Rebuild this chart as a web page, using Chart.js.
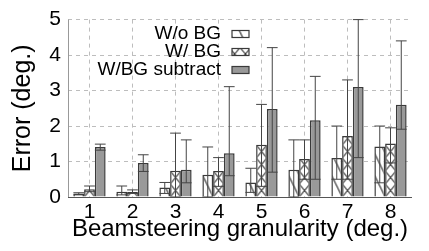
<!DOCTYPE html>
<html>
<head>
<meta charset="utf-8">
<script src="https://cdn.jsdelivr.net/npm/chart.js@4.4.0/dist/chart.umd.min.js"></script>
<style>
  html, body { margin: 0; padding: 0; background: #fff; }
  #wrap { width: 429px; height: 251px; }
</style>
</head>
<body>
<div id="wrap"><canvas id="errChart" width="429" height="251"></canvas></div>
<script>
// valores
const categorias = ['1', '2', '3', '4', '5', '6', '7', '8'];
const yTicks = [0, 1, 2, 3, 4, 5];

const semBG = [0.10, 0.15, 0.27, 0.63, 0.41, 0.77, 1.10, 1.42];
const semBGMin = [0.06, 0.06, 0.10, 0.00, 0.13, 0.00, 0.50, 0.40];
const semBGMax = [0.12, 0.31, 0.41, 1.41, 0.81, 1.61, 2.00, 2.00];

const comBG = [0.22, 0.14, 0.74, 0.73, 1.47, 1.07, 1.72, 1.51];
const comBGMin = [0.15, 0.10, 0.00, 0.30, 0.30, 0.50, 0.50, 0.96];
const comBGMax = [0.31, 0.20, 1.80, 1.11, 2.61, 1.61, 3.30, 1.95];

const subtrai = [1.41, 0.96, 0.77, 1.23, 2.48, 2.16, 3.10, 2.60];
const subtraiMin = [1.32, 0.72, 0.40, 0.60, 0.70, 0.50, 1.11, 1.91];
const subtraiMax = [1.49, 1.19, 1.61, 3.11, 4.21, 3.40, 5.00, 4.40];

const nomes = ['W/o BG', 'W/ BG', 'W/BG subtract'];

const FONTE = "'Liberation Sans', Arial, sans-serif";
const BORDA = '#3a3a3a';

// padrões de hachura (um bloco = 4 barras de 10.75px)
const passo = 10.75;
function criaPadrao(tipo) {
    const c = document.createElement('canvas');
    const h = tipo === 'diag' ? 22 : 13;
    c.width = 43; c.height = h;
    const g = c.getContext('2d');
    g.fillStyle = '#fff';
    g.fillRect(0, 0, c.width, h);
    g.strokeStyle = '#2a2a2a';
    g.lineWidth = 1.1;
    for (let k = 0; k < 4; k++) {
        const x0 = k * passo, x1 = (k + 1) * passo;
        g.beginPath();
        g.moveTo(x0, 0); g.lineTo(x1, h);
        if (tipo === 'cruz') { g.moveTo(x1, 0); g.lineTo(x0, h); }
        g.stroke();
    }
    const ctx = document.getElementById('errChart').getContext('2d');
    const p = ctx.createPattern(c, 'repeat');
    p.setTransform(new DOMMatrix().translate(68 + 5.375, 197));
    return p;
}

const padraoDiag = criaPadrao('diag');
const padraoCruz = criaPadrao('cruz');

const faixas = [[semBGMin, semBGMax], [comBGMin, comBGMax], [subtraiMin, subtraiMax]];

// barras de erro com traço no mínimo e no máximo
const errorBars = {
    id: 'errorBars',
    afterDatasetsDraw(chart) {
        const ctx = chart.ctx;
        const y = chart.scales.y;
        ctx.save();
        ctx.strokeStyle = '#444';
        ctx.lineWidth = 1;
        chart.data.datasets.forEach((ds, di) => {
            const meta = chart.getDatasetMeta(di);
            meta.data.forEach((bar, i) => {
                const lo = y.getPixelForValue(faixas[di][0][i]);
                const hi = y.getPixelForValue(faixas[di][1][i]);
                const half = bar.width / 2;
                ctx.beginPath();
                ctx.moveTo(bar.x, lo); ctx.lineTo(bar.x, hi);
                ctx.moveTo(bar.x - half, hi); ctx.lineTo(bar.x + half, hi);
                ctx.moveTo(bar.x - half, lo); ctx.lineTo(bar.x + half, lo);
                ctx.stroke();
            });
        });
        ctx.restore();
    }
};

// eixos esquerdo e inferior contínuos (a grade é tracejada)
const eixosSolidos = {
    id: 'eixosSolidos',
    beforeDatasetsDraw(chart) {
        const { ctx, chartArea: a } = chart;
        ctx.save();
        ctx.lineWidth = 1;
        ctx.strokeStyle = '#999';
        ctx.beginPath();
        ctx.moveTo(a.left + 0.5, a.top); ctx.lineTo(a.left + 0.5, a.bottom);
        ctx.stroke();
        ctx.strokeStyle = '#555';
        ctx.beginPath();
        ctx.moveTo(a.left, a.bottom + 0.5); ctx.lineTo(a.right, a.bottom + 0.5);
        ctx.stroke();
        ctx.restore();
    }
};

// legenda dentro da área do gráfico, texto à esquerda da caixa
const legendaInterna = {
    id: 'legendaInterna',
    afterDraw(chart) {
        const ctx = chart.ctx;
        ctx.save();
        ctx.font = '19px ' + FONTE;
        ctx.textAlign = 'right';
        ctx.textBaseline = 'middle';
        chart.data.datasets.forEach((ds, i) => {
            const yc = 34 + i * 18;
            ctx.fillStyle = '#000';
            ctx.fillText(ds.label, 221, yc);
            ctx.fillStyle = ds.backgroundColor;
            ctx.fillRect(232, yc - 3.5, 17, 7);
            ctx.strokeStyle = BORDA;
            ctx.lineWidth = 1.2;
            ctx.strokeRect(232, yc - 3.5, 17, 7);
        });
        ctx.restore();
    }
};

new Chart(document.getElementById('errChart'), {
    type: 'bar',
    data: {
        labels: categorias,
        datasets: [
            { label: nomes[0], data: semBG, backgroundColor: padraoDiag },
            { label: nomes[1], data: comBG, backgroundColor: padraoCruz },
            { label: nomes[2], data: subtrai, backgroundColor: '#999999' }
        ]
    },
    options: {
        responsive: false,
        animation: false,
        devicePixelRatio: 1,
        layout: { padding: { left: 0, right: 17, top: 14, bottom: 0 } },
        datasets: {
            bar: {
                borderColor: BORDA,
                borderWidth: 1.5,
                categoryPercentage: 0.75,
                barPercentage: 1.0
            }
        },
        plugins: {
            legend: { display: false },
            tooltip: { enabled: false }
        },
        scales: {
            x: {
                afterFit(s) { s.height = 54; },
                grid: {
                    offset: false,
                    color: '#bdbdbd',
                    drawTicks: false
                },
                border: { display: false, dash: [4, 4] },
                ticks: {
                    color: '#000',
                    padding: 3,
                    font: { family: FONTE, size: 21 }
                },
                title: {
                    display: true,
                    text: 'Beamsteering granularity (deg.)',
                    color: '#000',
                    font: { family: FONTE, size: 24 },
                    padding: { top: 0, bottom: 7 }
                }
            },
            y: {
                min: 0,
                max: 5,
                afterFit(s) { s.width = 68; },
                afterBuildTicks(s) { s.ticks = yTicks.map(v => ({ value: v })); },
                grid: {
                    color: '#bdbdbd',
                    drawTicks: false
                },
                border: { display: false, dash: [4, 4] },
                ticks: {
                    color: '#000',
                    padding: 7,
                    font: { family: FONTE, size: 21 }
                },
                title: {
                    display: true,
                    text: 'Error (deg.)',
                    color: '#000',
                    font: { family: FONTE, size: 25 },
                    padding: { top: 8, bottom: 0 }
                }
            }
        }
    },
    plugins: [eixosSolidos, errorBars, legendaInterna]
});
</script>
</body>
</html>
